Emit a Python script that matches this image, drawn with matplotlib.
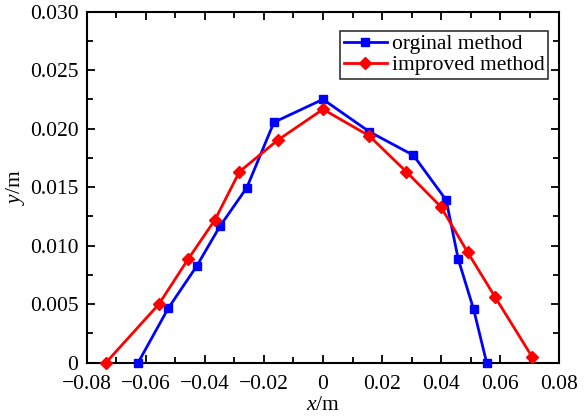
import matplotlib
matplotlib.use('Agg')
import matplotlib.pyplot as plt
from matplotlib.ticker import MultipleLocator, FuncFormatter

plt.rcParams['font.family'] = 'Liberation Serif'
plt.rcParams['mathtext.fontset'] = 'custom'
plt.rcParams['mathtext.rm'] = 'Liberation Serif'
plt.rcParams['mathtext.it'] = 'Liberation Serif:italic'

# original method
x_orig = [-0.0626, -0.0524, -0.0428, -0.0349, -0.0258, -0.0166, 0.0, 0.0157,
          0.0306, 0.0417, 0.0458, 0.0510, 0.0554]
y_orig = [0.0, 0.00465, 0.00824, 0.01166, 0.01496, 0.02055, 0.02251, 0.01974,
          0.01773, 0.0139, 0.00884, 0.00456, 0.0]

# improved method
x_impr = [-0.0735, -0.0556, -0.0457, -0.0366, -0.0283, -0.0153, 0.0, 0.0157,
          0.0282, 0.0399, 0.0490, 0.0582, 0.0708]
y_impr = [0.0, 0.00499, 0.00884, 0.0122, 0.01632, 0.01903, 0.02166, 0.01938,
          0.01632, 0.01333, 0.00943, 0.00564, 0.0005]

fig = plt.figure(figsize=(5.85, 4.18), dpi=100)
ax = fig.add_axes([86.7 / 585, 1 - 362.7 / 418, 472.6 / 585, 351 / 418])

ax.plot(x_orig, y_orig, color='#0000ff', lw=2, marker='s', ms=6,
        label='orginal method', clip_on=False, zorder=3)
ax.plot(x_impr, y_impr, color='#ff0000', lw=2, marker='D', ms=6,
        label='improved method', clip_on=False, zorder=3)

ax.set_xlim(-0.08, 0.08)
ax.set_ylim(0, 0.03)
ax.xaxis.set_major_locator(MultipleLocator(0.02))
ax.xaxis.set_minor_locator(MultipleLocator(0.01))
ax.yaxis.set_major_locator(MultipleLocator(0.005))
ax.yaxis.set_minor_locator(MultipleLocator(0.0025))


def fmt_x(v, pos):
    if abs(v) < 1e-9:
        return '0'
    return ('%.2f' % v).replace('-', '\u2212')


def fmt_y(v, pos):
    if abs(v) < 1e-9:
        return '0'
    return '%.3f' % v


ax.xaxis.set_major_formatter(FuncFormatter(fmt_x))
ax.yaxis.set_major_formatter(FuncFormatter(fmt_y))

ax.tick_params(which='both', direction='in', top=True, right=True,
               labelsize=15.5, width=1.3)
ax.tick_params(which='major', length=6)
ax.tick_params(which='minor', length=4)
ax.tick_params(axis='x', pad=9)
ax.tick_params(axis='y', pad=6)
for s in ax.spines.values():
    s.set_linewidth(1.5)

ax.set_xlabel('$x$/m', fontsize=15.5, labelpad=1)
ax.set_ylabel('$y$/m', fontsize=15.5, labelpad=2)

leg = ax.legend(loc='upper right', fontsize=15.5, frameon=True, fancybox=False,
                edgecolor='black', handlelength=2.0, borderpad=0.15,
                labelspacing=0.05, handletextpad=0.25, borderaxespad=0,
                bbox_to_anchor=(0.976, 0.945))
leg.get_frame().set_linewidth(1.2)

fig.savefig('out.png', dpi=100)
